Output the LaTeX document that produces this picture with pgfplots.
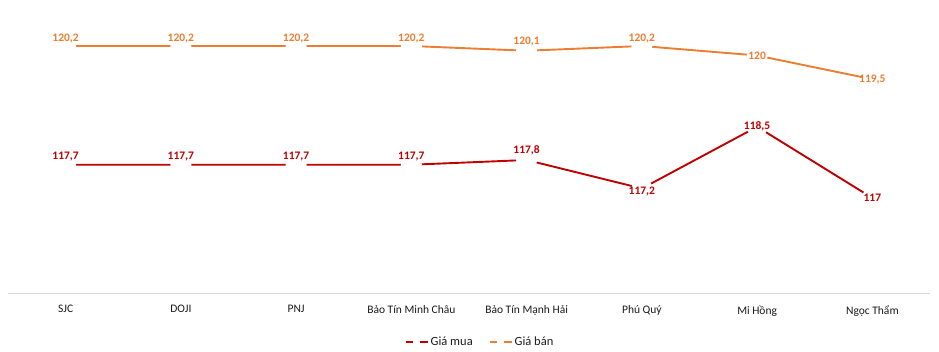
\documentclass[border=0pt]{standalone}
\usepackage{pgfplots}
\pgfplotsset{compat=1.18}
\usepackage{pgfplotstable}
\usepackage{fontspec}
\setmainfont{Carlito}[BoldFont={Carlito Bold}]
\definecolor{cban}{HTML}{ED7D31}
\definecolor{cmua}{HTML}{C00000}
\definecolor{ctext}{HTML}{1A1A1A}

\pgfplotstableread{
x y lab s
0 120.2 120,2 7
1 120.2 120,2 7
2 120.2 120,2 7
3 120.2 120,2 7.5
4 120.1 120,1 9
5 120.2 120,2 7
6 120.0 120 0
7 119.5 119,5 0
}\ban
\pgfplotstableread{
x y lab s
0 117.7 117,7 8
1 117.7 117,7 8
2 117.7 117,7 8
3 117.7 117,7 8
4 117.8 117,8 10
5 117.2 117,2 -3
6 118.5 118,5 0
7 117.0 117 0
}\mua

\begin{document}
\begin{tikzpicture}
\begin{axis}[
  scale only axis,
  width=922pt, height=285pt,
  xmin=-0.5, xmax=7.5, ymin=115, ymax=121,
  axis x line=bottom, axis y line=none,
  x axis line style={draw=black!15, line width=0.8pt, -},
  xtick={0,...,7},
  xticklabels={SJC, DOJI, PNJ, Bảo Tín Minh Châu, Bảo Tín Mạnh Hải, Phú Quý, Mi Hồng, Ngọc Thẩm},
  major tick length=0pt,
  xticklabel style={font=\fontsize{11.5}{13}\selectfont, text=ctext, yshift=-9pt},
  clip=false,
  legend columns=2,
  legend style={at={(0.512,0)}, anchor=center, yshift=-49pt, draw=none, fill=none,
    font=\fontsize{12.5}{14}\selectfont, text=ctext,
    /tikz/every even column/.append style={column sep=14pt}},
  legend image code/.code={
    \draw[#1, mark=none] (0pt,0pt) -- (7pt,0pt);
    \draw[#1, mark=none] (14pt,0pt) -- (22pt,0pt);
  },
  nodes near coords,
  point meta=explicit symbolic,
  visualization depends on={\thisrow{s} \as \ls},
  every node near coord/.append style={anchor=center, yshift=\ls pt, font=\bfseries\fontsize{11.5}{13}\selectfont, inner sep=0pt},
]
\addplot[color=cmua, line width=1.9pt, mark=*, mark size=10.5pt, mark options={fill=white, draw=white, draw opacity=0, line width=0pt},
  every node near coord/.append style={text=cmua}] table[x=x, y=y, meta=lab] {\mua};
\addlegendentry{Giá mua}
\addplot[color=cban, line width=1.9pt, mark=*, mark size=10.5pt, mark options={fill=white, draw=white, draw opacity=0, line width=0pt},
  every node near coord/.append style={text=cban}] table[x=x, y=y, meta=lab] {\ban};
\addlegendentry{Giá bán}
\path (rel axis cs:0,0) ++(-8pt,-59pt) coordinate (bbA);
\path (rel axis cs:1,1) ++(9pt,8pt) coordinate (bbB);
\end{axis}
\end{tikzpicture}
\end{document}
